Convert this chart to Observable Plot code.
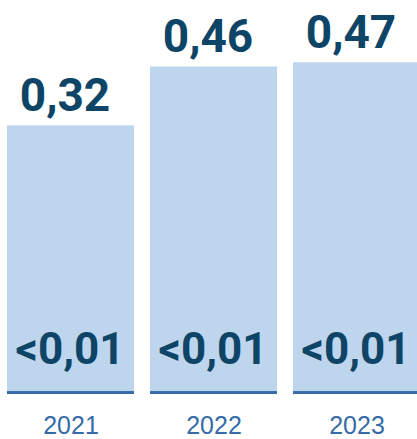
<!DOCTYPE html>
<html>
<head>
<meta charset="utf-8">
<script src="https://cdn.jsdelivr.net/npm/d3@7"></script>
<script src="https://cdn.jsdelivr.net/npm/@observablehq/plot@0.6"></script>
<style>
  html, body { margin: 0; padding: 0; background: #fff; }
  #chart { width: 417px; height: 439px; overflow: hidden; }
</style>
</head>
<body>
<div id="chart"></div>
<script>
// Data
const years = ["2021", "2022", "2023"];
const values = [0.32, 0.46, 0.47];          // main series
const smallValues = [0.007, 0.007, 0.007];  // "<0,01" series (estimated tiny segment)
const smallLabels = ["<0,01", "<0,01", "<0,01"];

const fmt = v => v.toFixed(2).replace(".", ",");
const rows = years.map((y, i) => ({year: y, value: values[i], small: smallValues[i], smallLabel: smallLabels[i]}));

// scale settings
const yBase = -0.319;
const yTop = 0.618;

const navy = "#0e4466";
const lightBlue = "#bdd6ed";
const midBlue = "#356ba6";

const chart = Plot.plot({
  width: 417,
  height: 439,
  marginTop: 0,
  marginBottom: 45,
  marginLeft: 0,
  marginRight: 0,
  style: {fontFamily: "'Liberation Sans Narrow', 'Liberation Sans', sans-serif", background: "#fff"},
  x: {domain: years, range: [7, 420], paddingInner: 0.112, paddingOuter: 0, round: false, label: null},
  y: {domain: [yBase, yTop], axis: null},
  marks: [
    Plot.rectY(rows, {x: "year", y1: yBase, y2: "value", fill: lightBlue}),
    Plot.rectY(rows, {x: "year", y1: yBase, y2: d => yBase + d.small, fill: midBlue}),
    Plot.text(rows, {x: "year", y: "value", text: d => fmt(d.value), lineAnchor: "bottom", dy: -15, dx: -6,
      fontFamily: "Roboto", fontWeight: 700, fontSize: 46, fill: navy}),
    Plot.text(rows, {x: "year", y: yBase, text: "smallLabel", lineAnchor: "bottom", dy: -31, dx: -1,
      fontFamily: "Roboto", fontWeight: 700, fontSize: 44, fill: navy}),
    Plot.axisX({tickSize: 0, tickPadding: 22, fontSize: 25, fill: midBlue, label: null,
      fontFamily: "'Liberation Sans Narrow', 'Liberation Sans', sans-serif"})
  ]
});
document.getElementById("chart").appendChild(chart);
</script>
</body>
</html>
